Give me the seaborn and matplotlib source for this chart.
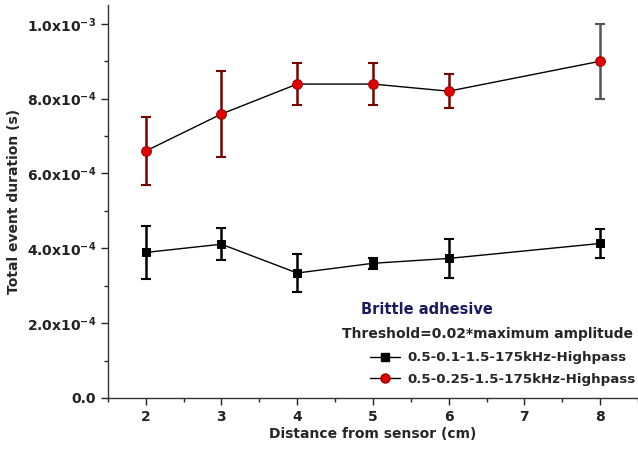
import numpy as np
import pandas as pd
import matplotlib
matplotlib.use("Agg")
import matplotlib.pyplot as plt
import seaborn as sns
from matplotlib.ticker import MultipleLocator, FuncFormatter
from matplotlib.lines import Line2D

distance = [2, 3, 4, 5, 6, 8]
black_vals = [0.389e-3, 0.411e-3, 0.334e-3, 0.360e-3, 0.373e-3, 0.413e-3]
black_err = [0.070e-3, 0.042e-3, 0.052e-3, 0.015e-3, 0.051e-3, 0.038e-3]
red_vals = [0.660e-3, 0.759e-3, 0.839e-3, 0.839e-3, 0.820e-3, 0.900e-3]
red_err = [0.090e-3, 0.114e-3, 0.056e-3, 0.056e-3, 0.045e-3, 0.100e-3]
series_names = ["0.5-0.1-1.5-175kHz-Highpass", "0.5-0.25-1.5-175kHz-Highpass"]
ytick_labels = ["0.0", r"2.0x10$^{-4}$", r"4.0x10$^{-4}$", r"6.0x10$^{-4}$",
                r"8.0x10$^{-4}$", r"1.0x10$^{-3}$"]

sns.set_style("ticks")
plt.rcParams['font.family'] = ['DejaVu Sans']
plt.rcParams['font.weight'] = 'bold'
plt.rcParams['mathtext.default'] = 'bf'

df = pd.DataFrame({
    "x": distance * 2,
    "y": black_vals + red_vals,
    "s": [series_names[0]] * len(distance) + [series_names[1]] * len(distance),
})

fig = plt.figure(figsize=(6.38, 4.49), dpi=100)
ax = fig.add_axes([0.169, 0.1136, 0.831, 0.875])

# error bars
ax.errorbar(distance, black_vals, yerr=black_err, fmt="none", ecolor="black",
            elinewidth=1.8, capsize=3.5, capthick=1.5, zorder=2)
red_ecol = ["#7a0000"] * 5 + ["#555555"]
for xi, yi, ei, c in zip(distance, red_vals, red_err, red_ecol):
    ax.errorbar([xi], [yi], yerr=[ei], fmt="none", ecolor=c,
                elinewidth=1.8, capsize=3.5, capthick=1.5, zorder=2)

sns.lineplot(data=df, x="x", y="y", hue="s", style="s",
             palette={series_names[0]: "black", series_names[1]: "black"},
             markers={series_names[0]: "s", series_names[1]: "o"},
             dashes=False, linewidth=1.0, markersize=6, ax=ax, zorder=3,
             legend=False)
for ln in ax.get_lines():
    if ln.get_marker() == "o":
        ln.set_markerfacecolor("#e00000")
        ln.set_markeredgecolor("#a00000")
        ln.set_markersize(7)
    elif ln.get_marker() == "s":
        ln.set_markerfacecolor("black")
        ln.set_markeredgecolor("black")
        ln.set_markersize(5.5)

ax.set_xlim(1.5, 8.5)
ax.set_ylim(0, 1.05e-3)
ax.xaxis.set_major_locator(MultipleLocator(1))
ax.xaxis.set_minor_locator(MultipleLocator(0.5))
ax.yaxis.set_major_locator(MultipleLocator(2e-4))
ax.yaxis.set_minor_locator(MultipleLocator(1e-4))
ax.yaxis.set_major_formatter(FuncFormatter(
    lambda v, p: ytick_labels[int(round(v / 2e-4))] if 0 <= int(round(v / 2e-4)) < len(ytick_labels) else ""))
ax.set_xticks([2, 3, 4, 5, 6, 7, 8])
ax.tick_params(axis="both", which="major", direction="out", length=5, width=1.0,
               labelsize=10, colors="#222222")
ax.tick_params(axis="both", which="minor", direction="out", length=3, width=1.0)
for lab in ax.get_xticklabels() + ax.get_yticklabels():
    lab.set_fontweight("bold")

sns.despine(ax=ax, top=True, right=True)
for sp in ["left", "bottom"]:
    ax.spines[sp].set_linewidth(1.0)
    ax.spines[sp].set_color("#333333")

ax.set_xlabel("Distance from sensor (cm)", fontsize=10, fontweight="bold", labelpad=2)
ax.set_ylabel("Total event duration (s)", fontsize=10, fontweight="bold", labelpad=4)

ax.text(0.478, 0.224, "Brittle adhesive", transform=ax.transAxes, fontsize=10.5,
        fontweight="bold", color="#1a1a5e", ha="left", va="center")
ax.text(0.99, 0.163, "Threshold=0.02*maximum amplitude", transform=ax.transAxes,
        fontsize=10, fontweight="bold", ha="right", va="center")

handles = [
    Line2D([], [], color="black", lw=1.0, marker="s", markersize=5.5,
           markerfacecolor="black", markeredgecolor="black"),
    Line2D([], [], color="black", lw=1.0, marker="o", markersize=6.5,
           markerfacecolor="#e00000", markeredgecolor="#a00000"),
]
leg = ax.legend(handles, series_names, loc="center right", bbox_to_anchor=(0.995, 0.075),
                frameon=False, fontsize=9.6, handlelength=2.3, handletextpad=0.5,
                labelspacing=0.65, borderaxespad=0, borderpad=0)
for t in leg.get_texts():
    t.set_fontweight("bold")

fig.savefig("out.png", dpi=100)
